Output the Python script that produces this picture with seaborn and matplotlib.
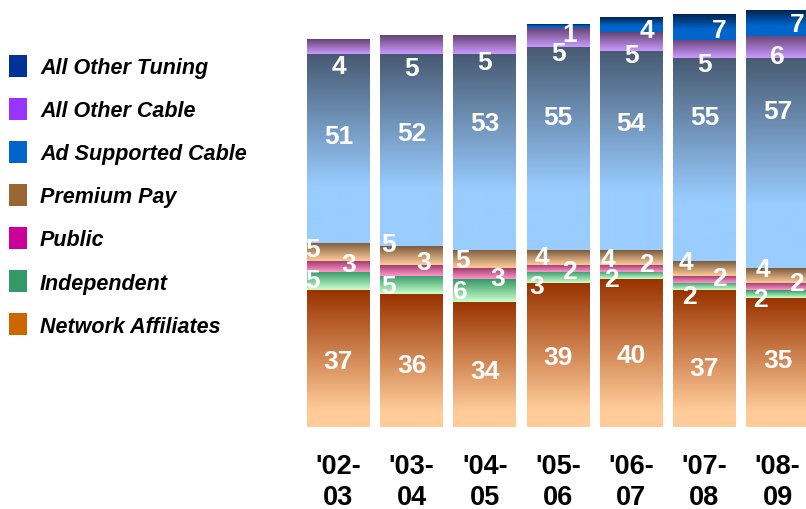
import numpy as np
import pandas as pd
import matplotlib
matplotlib.use("Agg")
import matplotlib.pyplot as plt
import seaborn as sns
from matplotlib.patches import Patch
from matplotlib.colors import to_rgb

# ---------------- data ----------------
seasons = ["'02-\n03", "'03-\n04", "'04-\n05", "'05-\n06", "'06-\n07", "'07-\n08", "'08-\n09"]
series_names = ["Network Affiliates", "Independent", "Public", "Premium Pay",
                "Ad Supported Cable", "All Other Cable", "All Other Tuning"]
network_affiliates = [37, 36, 34, 39, 40, 37, 35]
independent = [5, 5, 6, 3, 2, 2, 2]
public = [3, 3, 3, 2, 2, 2, 2]
premium_pay = [5, 5, 5, 4, 4, 4, 4]
ad_supported_cable = [51, 52, 53, 55, 54, 55, 57]
all_other_cable = [4, 5, 5, 5, 5, 5, 6]
all_other_tuning = [0, 0, 0, 1, 4, 7, 7]

values = [network_affiliates, independent, public, premium_pay,
          ad_supported_cable, all_other_cable, all_other_tuning]

# ---------------- styles ----------------
legend_colors = {
    "All Other Tuning": "#003399",
    "All Other Cable": "#9933FF",
    "Ad Supported Cable": "#0066CC",
    "Premium Pay": "#996633",
    "Public": "#CC0099",
    "Independent": "#339966",
    "Network Affiliates": "#CC6600",
}
# (top colour, bottom colour, fraction of height over which the ramp runs)
gradients = {
    "Network Affiliates": ("#993300", "#FFCC99", 0.88),
    "Independent": ("#339966", "#CCFFCC", 1.0),
    "Public": ("#993366", "#FF99CC", 1.0),
    "Premium Pay": ("#7A5A3C", "#FFCC99", 1.0),
    "Ad Supported Cable": ("#475A72", "#99CCFF", 0.7),
    "All Other Cable": ("#644474", "#CC99FF", 1.0),
    "All Other Tuning": ("#00224F", "#0066CC", 0.6),
}
# label offsets: (dx in category units, dy in value units from segment centre)
label_dx = {
    "Network Affiliates": [0, 0, 0, 0, 0, 0, 0],
    "Independent": [-0.35, -0.32, -0.34, -0.29, -0.27, -0.20, -0.24],
    "Public": [0.14, 0.17, 0.17, 0.16, 0.21, 0.21, 0.25],
    "Premium Pay": [-0.35, -0.32, -0.31, -0.22, -0.32, -0.26, -0.20],
    "Ad Supported Cable": [0, 0, 0, 0, 0, 0, 0],
    "All Other Cable": [0, 0, 0, 0, 0, 0, 0],
    "All Other Tuning": [0, 0, 0, 0.16, 0.21, 0.20, 0.26],
}
label_dy = {
    "Network Affiliates": [-0.5, -1.2, -1.8, -0.5, -0.5, -2.5, 0.7],
    "Independent": [0.4, -0.25, -0.1, -2.2, -0.85, -2.5, -1.3],
    "Public": [0.7, 2.1, -1.0, -0.7, 1.2, 0.5, 0.9],
    "Premium Pay": [0.7, 3.2, -0.2, 0.1, -0.4, 1.8, 1.9],
    "Ad Supported Cable": [3.4, 4.8, 7.9, 8.6, 7.4, 11.6, 14.2],
    "All Other Cable": [-5.3, -6.2, -4.7, -4.1, -3.6, -4.2, -2.4],
    "All Other Tuning": [0, 0, 0, -2.0, -1.5, -1.0, -0.2],
}

sns.set_style("white")
plt.rcParams["font.family"] = ["Liberation Sans", "DejaVu Sans"]
plt.rcParams["text.color"] = "black"
plt.rcParams["xtick.color"] = "black"

W, H = 806, 510
fig = plt.figure(figsize=(W / 100, H / 100), dpi=100)
step = 73.2
ax = fig.add_axes([(338.5 - step / 2) / W, 82 / H, 7 * step / W, 115 * 3.69 / H])

# long-form table with cumulative tops
rows = []
cum = np.zeros(len(seasons))
for name, vals in zip(series_names, values):
    vals = np.asarray(vals, dtype=float)
    cum = cum + vals
    for s, v, t in zip(seasons, vals, cum):
        rows.append(dict(season=s, series=name, value=v, top=t))
df = pd.DataFrame(rows)


def gradient_image(top, bottom, ramp, n=200):
    t = np.linspace(0, 1, n)
    f = np.clip(t / ramp, 0, 1)
    c0 = np.array(to_rgb(top))
    c1 = np.array(to_rgb(bottom))
    img = c0[None, :] + (c1 - c0)[None, :] * f[:, None]
    return img[:, None, :]


for name in series_names:
    sub = df[df.series == name]
    n_before = len(ax.patches)
    sns.barplot(data=sub, x="season", y="top", order=seasons, color=legend_colors[name],
                width=0.86, ax=ax, errorbar=None, zorder=1)
    new_patches = ax.patches[n_before:]
    top_c, bot_c, ramp = gradients[name]
    img = gradient_image(top_c, bot_c, ramp)
    for i, (p, v) in enumerate(zip(new_patches, sub["value"].to_numpy())):
        p.set_alpha(0)
        if v <= 0:
            continue
        x0 = p.get_x()
        x1 = x0 + p.get_width()
        y1 = p.get_height()
        y0 = y1 - v
        ax.imshow(img, extent=[x0, x1, y0, y1], aspect="auto", origin="upper",
                  interpolation="bilinear", zorder=2)
        ax.text(x0 + p.get_width() / 2 + label_dx[name][i], y0 + v / 2 + label_dy[name][i],
                f"{int(v)}", ha="center", va="center", color="white",
                fontsize=19, fontweight="bold", zorder=5)

ax.set_xlim(-0.5, 6.5)
ax.set_ylim(0, 115)
ax.set_xlabel("")
ax.set_ylabel("")
ax.set_yticks([])
ax.set_xticks(range(len(seasons)))
ax.set_xticklabels(seasons, fontsize=19.5, fontweight="bold", linespacing=1.25, color="black")
ax.tick_params(axis="x", length=0, pad=19)
for sp in ax.spines.values():
    sp.set_visible(False)

legend_order = ["All Other Tuning", "All Other Cable", "Ad Supported Cable", "Premium Pay",
                "Public", "Independent", "Network Affiliates"]
handles = [Patch(facecolor=legend_colors[n], edgecolor="none") for n in legend_order]
leg = fig.legend(handles, legend_order, loc="upper left", bbox_to_anchor=(9 / W, 1 - 56 / H),
                 frameon=False,
                 prop=dict(family="Liberation Sans", weight="bold", style="italic", size=15.5),
                 handlelength=0.84, handleheight=1.22, labelspacing=0.91, handletextpad=0.6,
                 borderpad=0, borderaxespad=0)
for t in leg.get_texts():
    t.set_color("black")

fig.savefig("out.png", dpi=100, facecolor="white")
